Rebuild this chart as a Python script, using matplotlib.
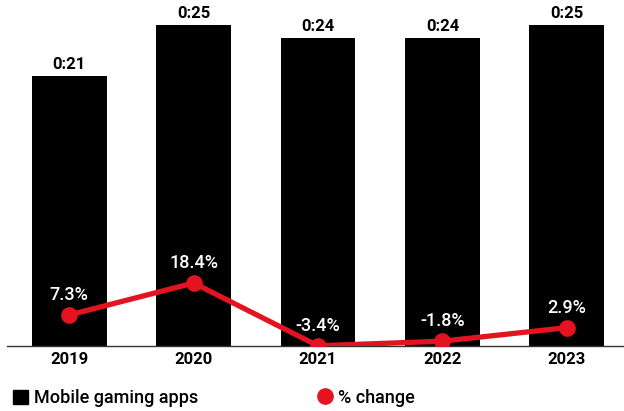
import matplotlib.pyplot as plt
from matplotlib.lines import Line2D
from matplotlib.patches import Patch

# donnees
annees = ["2019", "2020", "2021", "2022", "2023"]
minutes = [21, 25, 24, 24, 25]
etiquettes = ["0:21", "0:25", "0:24", "0:24", "0:25"]
variation = [7.3, 18.4, -3.4, -1.8, 2.9]

rouge = "#e3141f"
plt.rcParams['font.family'] = ['Roboto', 'DejaVu Sans']

fig = plt.figure(figsize=(6.24, 4.11), dpi=100)
ax = fig.add_axes([7 / 624, 65 / 411, 617 / 624, 341 / 411])
x = list(range(len(annees)))

ax.bar(x, minutes, width=0.6, color="black")
for i, lab in enumerate(etiquettes):
    ax.annotate(lab, (i, minutes[i]), xytext=(0, 3), textcoords="offset points",
                ha="center", va="bottom", fontsize=12, fontweight="bold")

ax.set_xlim(-0.5, 4.46)
ax.set_ylim(0, 26.56)
ax.set_xticks(x)
ax.set_xticklabels(annees, fontsize=12, fontweight="bold")
ax.tick_params(axis="x", length=0, pad=4)
ax.set_yticks([])
for s in ["top", "left", "right"]:
    ax.spines[s].set_visible(False)
ax.spines["bottom"].set_color("#333333")
ax.spines["bottom"].set_linewidth(1)

ax2 = ax.twinx()
ax2.set_ylim(-3.47, 114.9)
ax2.plot(x, variation, color=rouge, lw=3.8, marker="o", ms=11, zorder=3)
for i, v in enumerate(variation):
    ax2.annotate(f"{v}%", (i, v), xytext=(0, 8), textcoords="offset points",
                 ha="center", va="bottom", fontsize=13, fontweight="medium",
                 color="white")
ax2.axis("off")

handles = [Patch(color="black"),
           Line2D([], [], color=rouge, marker="o", ms=11, lw=0)]
fig.legend(handles, ["Mobile gaming apps", "% change"], ncol=2, loc="lower left",
           bbox_to_anchor=(-0.005, -0.03), frameon=False,
           prop={"size": 13, "weight": "medium"},
           handlelength=0.8, handleheight=0.8, handletextpad=0.35, columnspacing=6.6)

plt.savefig("out.png")
